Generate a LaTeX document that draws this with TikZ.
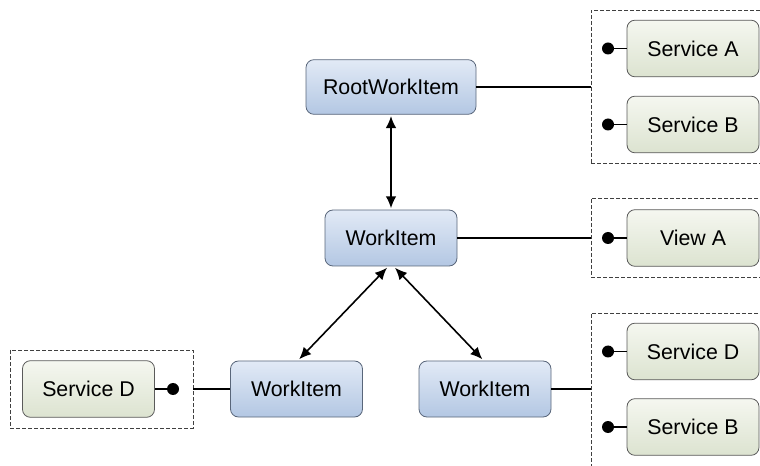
\documentclass[tikz,border=0pt]{standalone}
\usepackage{fontspec}
\setmainfont{Liberation Sans}
\usepackage{tikz}
\usetikzlibrary{arrows.meta}

\definecolor{wiborder}{HTML}{59667A}
\definecolor{witop}{HTML}{E2EAF6}
\definecolor{wibottom}{HTML}{B3C7E3}
\definecolor{svborder}{HTML}{5A5A5A}
\definecolor{svtop}{HTML}{F5F7F0}
\definecolor{svbottom}{HTML}{DCE3D0}

\begin{document}
\begin{tikzpicture}[x=0.75pt,y=-0.75pt,
        workitem/.style={rectangle, rounded corners=6pt, draw=wiborder, line width=0.6pt,
          top color=witop, bottom color=wibottom, minimum width=99pt, minimum height=42pt,
          font=\fontsize{16}{19}\selectfont},
        service/.style={rectangle, rounded corners=6pt, draw=svborder, line width=0.6pt,
          top color=svtop, bottom color=svbottom, minimum width=99pt, minimum height=42.5pt,
          font=\fontsize{16}{19}\selectfont},
        groupbox/.style={rectangle, draw=black!75, dash pattern=on 3pt off 1.5pt, line width=0.6pt},
        dot/.style={circle, fill=black, inner sep=0pt, minimum size=9pt},
        link/.style={line width=1.2pt},
        both/.style={line width=1.2pt, {Latex[length=9pt,width=8pt]}-{Latex[length=9pt,width=8pt]}}]
    \useasboundingbox (0,0) rectangle (760,466);
    \clip (0,0) rectangle (760,466);
    % work items
    \node [workitem, minimum width=127.5pt, minimum height=41pt] (root) at (391,87) {RootWorkItem};
    \node [workitem] (wm) at (391,238) {WorkItem};
    \node [workitem] (wl) at (296.5,389) {WorkItem};
    \node [workitem] (wr) at (485,389) {WorkItem};
    % groups
    \node [groupbox, minimum width=156.75pt, minimum height=114.75pt] (gtop) at (695.5,86.5) {};
    \node [groupbox, minimum width=156.75pt, minimum height=59.25pt] (gmid) at (695.5,237.5) {};
    \node [groupbox, minimum width=156.75pt, minimum height=140.25pt] (gbot) at (695.5,406.5) {};
    \node [groupbox, minimum width=137.25pt, minimum height=58.5pt] (gleft) at (101.5,389) {};
    % services
    \node [service] (sa) at (693,48.5) {Service A};
    \node [service] (sb) at (693,124.5) {Service B};
    \node [service] (va) at (693,238) {View A};
    \node [service] (sd) at (693,351.5) {Service D};
    \node [service] (sb2) at (693,427) {Service B};
    \node [service] (sdl) at (88.5,389) {Service D};
    % dots
    \node [dot] (da) at (608,48.5) {};
    \node [dot] (db) at (608,124.5) {};
    \node [dot] (dv) at (608,238) {};
    \node [dot] (dd) at (608,351.5) {};
    \node [dot] (db2) at (608,427) {};
    \node [dot] (dl) at (173,389) {};
    % connectors
    \draw [link] (da) -- (sa.west);
    \draw [link] (db) -- (sb.west);
    \draw [link] (dv) -- (va.west);
    \draw [link] (dd) -- (sd.west);
    \draw [link] (db2) -- (sb2.west);
    \draw [link] (dl) -- (sdl.east);
    \draw [link] (root.east) -- (root.east -| gtop.west);
    \draw [link] (wm.east) -- (wm.east -| gmid.west);
    \draw [link] (wr.east) -- (wr.east -| gbot.west);
    \draw [link] (wl.west) -- (gleft.east |- wl.west);
    \draw [both] ([yshift=-1pt]root.south) -- ([yshift=1pt]wm.north);
    \draw [both] ([xshift=-3pt,yshift=-1pt]wm.south) -- ([xshift=2pt,yshift=1pt]wl.north);
    \draw [both] ([xshift=3pt,yshift=-1pt]wm.south) -- ([xshift=-2pt,yshift=1pt]wr.north);
\end{tikzpicture}
\end{document}
